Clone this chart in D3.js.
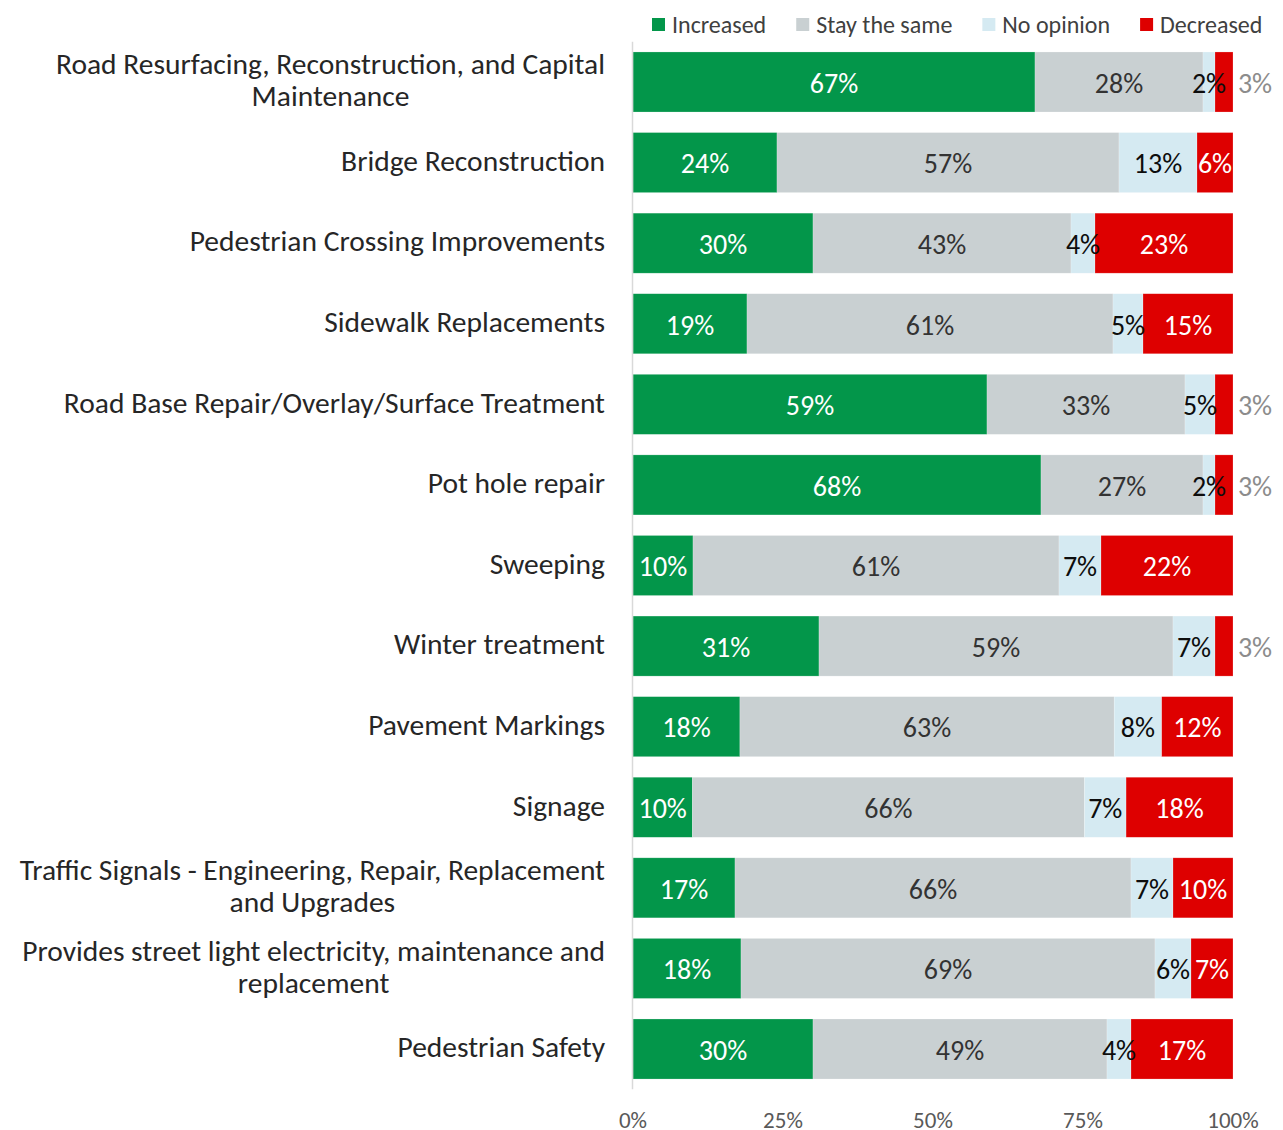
<!DOCTYPE html>
<html>
<head>
<meta charset="utf-8">
<script src="https://cdn.jsdelivr.net/npm/d3@7/dist/d3.min.js"></script>
<style>
  html, body { margin: 0; padding: 0; background: #fff; }
  svg { display: block; font-family: Carlito, 'Open Sans', Lato, sans-serif; }
</style>
</head>
<body>
<div id="chart"></div>
<script>
// ---- data ----
const categories = [
  ['Road Resurfacing, Reconstruction, and Capital', 'Maintenance'],
  ['Bridge Reconstruction'],
  ['Pedestrian Crossing Improvements'],
  ['Sidewalk Replacements'],
  ['Road Base Repair/Overlay/Surface Treatment'],
  ['Pot hole repair'],
  ['Sweeping'],
  ['Winter treatment'],
  ['Pavement Markings'],
  ['Signage'],
  ['Traffic Signals - Engineering, Repair, Replacement', 'and Upgrades'],
  ['Provides street light electricity, maintenance and', 'replacement'],
  ['Pedestrian Safety']
];
const seriesNames = ['Increased', 'Stay the same', 'No opinion', 'Decreased'];
const increased  = [67, 24, 30, 19, 59, 68, 10, 31, 18, 10, 17, 18, 30];
const stayed     = [28, 57, 43, 61, 33, 27, 61, 59, 63, 66, 66, 69, 49];
const noOpinion  = [2, 13, 4, 5, 5, 2, 7, 7, 8, 7, 7, 6, 4];
const decreased  = [3, 6, 23, 15, 3, 3, 22, 3, 12, 18, 10, 7, 17];
const xTicks = [0, 0.25, 0.5, 0.75, 1];

const colors = ['#03964a', '#c9d0d2', '#d5eaf2', '#de0000'];
const labelColors = ['#ffffff', '#333333', '#0d0d0d', '#ffffff'];

// ---- layout ----
const W = 1283, H = 1130;
const x0 = 633, x1 = 1233;

const rows = categories.map((c, i) => ({
  key: i,
  values: [increased[i], stayed[i], noOpinion[i], decreased[i]]
}));

const svg = d3.select('#chart').append('svg')
  .attr('width', W).attr('height', H);

const x = d3.scaleLinear().domain([0, 1]).range([x0, x1]);
const y = d3.scaleBand()
  .domain(d3.range(categories.length))
  .range([41.7, 1089.3])
  .paddingInner(0.255)
  .paddingOuter(0.1275);

const stack = d3.stack()
  .keys([0, 1, 2, 3])
  .value((d, k) => d.values[k])
  .offset(d3.stackOffsetExpand);
const series = stack(rows);

// bars
const layers = svg.append('g').selectAll('g')
  .data(series)
  .join('g')
  .attr('fill', (d, i) => colors[i]);

layers.selectAll('rect')
  .data(d => d)
  .join('rect')
  .attr('x', d => x(d[0]))
  .attr('y', (d, i) => y(i))
  .attr('width', d => x(d[1]) - x(d[0]))
  .attr('height', y.bandwidth())
  .attr('stroke', '#fff')
  .attr('stroke-opacity', 0.35)
  .attr('stroke-width', 0.6);

// value labels
series.forEach((layer, k) => {
  layer.forEach((d, i) => {
    const v = rows[i].values[k];
    const w = x(d[1]) - x(d[0]);
    const outside = k === 3 && w < 24;
    svg.append('text')
      .attr('x', outside ? x1 + 22 : (x(d[0]) + x(d[1])) / 2)
      .attr('y', y(i) + y.bandwidth() / 2 + 1)
      .attr('dy', '0.35em')
      .attr('text-anchor', 'middle')
      .attr('fill', outside ? '#8c8c8c' : labelColors[k])
      .style('font-size', '28px')
      .text(v + '%');
  });
});

// y axis line
svg.append('line')
  .attr('x1', x0 - 0.5).attr('x2', x0 - 0.5)
  .attr('y1', y.range()[0]).attr('y2', y.range()[1])
  .attr('stroke', '#d9d9d9').attr('stroke-width', 1.5);

// category labels
const catG = svg.append('g');
categories.forEach((lines, i) => {
  const cy = y(i) + y.bandwidth() / 2;
  const lh = 32;
  const t = catG.append('text')
    .attr('fill', '#262626')
    .style('font-size', '29.5px');
  lines.forEach((ln, j) => {
    t.append('tspan')
      .attr('y', cy + (j - (lines.length - 1) / 2) * lh - 2)
      .attr('dy', '0.35em')
      .text(ln);
  });
  // right align the block, centre the lines within it
  const spans = t.selectAll('tspan').nodes();
  const widths = spans.map(s => s.getComputedTextLength());
  const bw = d3.max(widths);
  spans.forEach((s, j) => {
    d3.select(s).attr('x', 605 - bw / 2).attr('text-anchor', 'middle');
  });
});

// x axis tick labels
svg.append('g').selectAll('text')
  .data(xTicks)
  .join('text')
  .attr('x', d => x(d))
  .attr('y', 1120)
  .attr('dy', '0.35em')
  .attr('text-anchor', 'middle')
  .attr('fill', '#595959')
  .style('font-size', '23px')
  .text(d3.format('.0%'));

// legend
const legend = svg.append('g').attr('transform', 'translate(652,25)');
let lx = 0;
seriesNames.forEach((name, i) => {
  const item = legend.append('g').attr('transform', `translate(${lx},0)`);
  item.append('rect')
    .attr('x', 0).attr('y', -7)
    .attr('width', 13).attr('height', 13)
    .attr('fill', colors[i]);
  const t = item.append('text')
    .attr('x', 20).attr('y', 0).attr('dy', '0.35em')
    .attr('fill', '#404040')
    .style('font-size', '24px')
    .text(name);
  lx += 20 + t.node().getComputedTextLength() + 30;
});
</script>
</body>
</html>
